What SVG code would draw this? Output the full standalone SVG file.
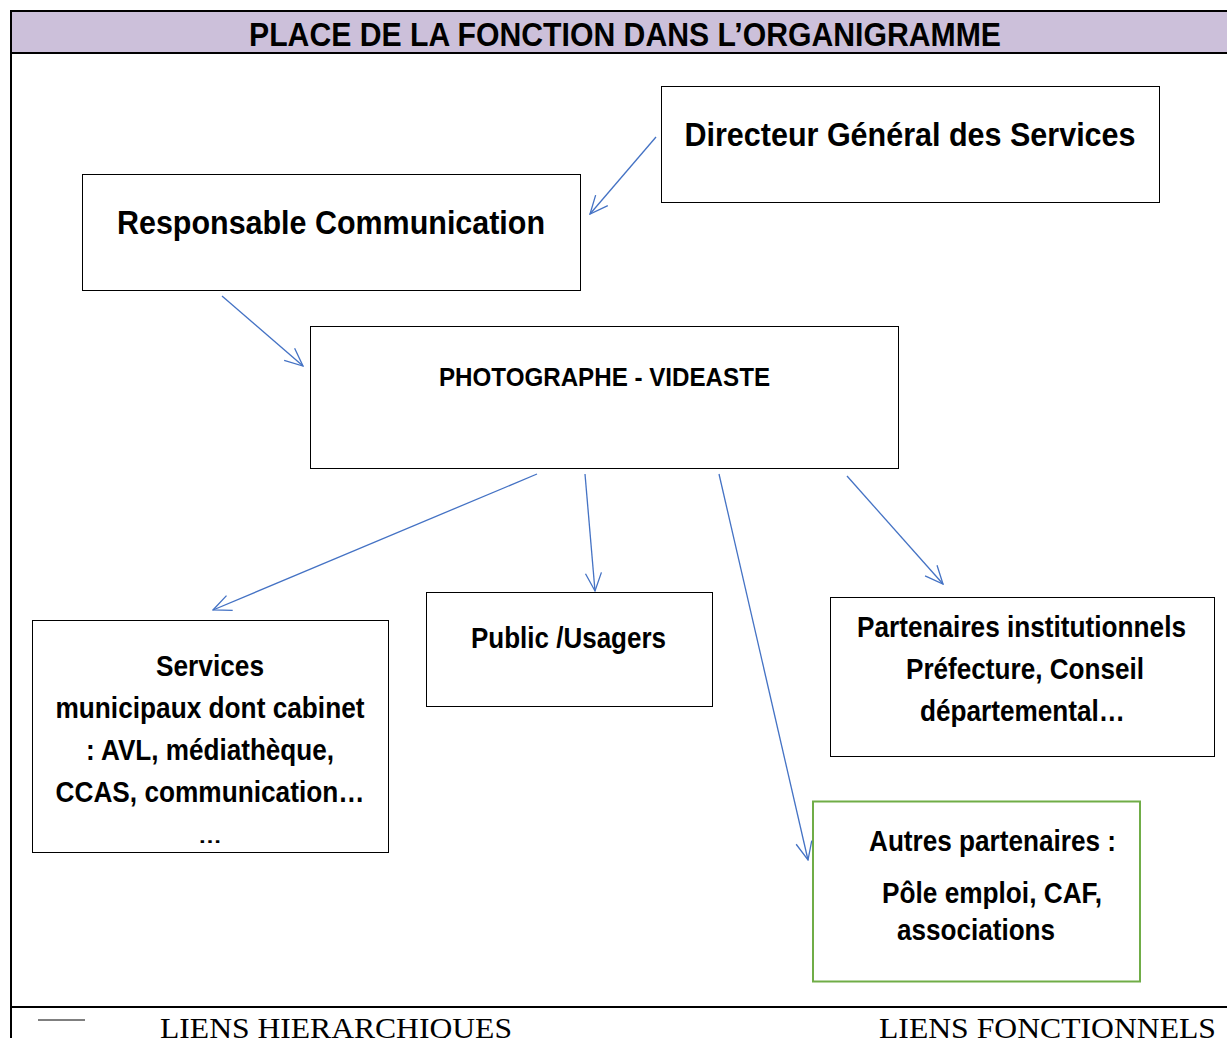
<svg xmlns="http://www.w3.org/2000/svg" width="1227" height="1038" viewBox="0 0 1227 1038">
<style>
.box{fill:#fff;stroke:#000;stroke-width:1}
.t{font-family:"Liberation Sans",Arial,sans-serif;font-weight:bold;fill:#000;text-anchor:middle}
.leg{font-family:"Liberation Serif","Times New Roman",serif;fill:#000}
.c{stroke:#4472c4;stroke-width:1.3;fill:none;marker-end:url(#ah)}
</style>
<defs>
<marker id="ah" viewBox="0 0 20 20" refX="19" refY="10" markerWidth="20" markerHeight="20" markerUnits="userSpaceOnUse" orient="auto">
<path d="M1,2 L19,10 L1,18" fill="none" stroke="#4472c4" stroke-width="1.3"/>
</marker>
</defs>
<rect x="0" y="0" width="1227" height="1038" fill="#fff"/>
<g id="frame">
<rect x="11" y="11" width="1218" height="42" fill="#ccc0da"/>
<line x1="10" y1="11" x2="1227" y2="11" stroke="#000" stroke-width="2"/>
<line x1="10" y1="53" x2="1227" y2="53" stroke="#000" stroke-width="2"/>
<line x1="11" y1="10" x2="11" y2="1038" stroke="#000" stroke-width="2"/>
<line x1="10" y1="1007" x2="1227" y2="1007" stroke="#000" stroke-width="2"/>
<text class="t" x="625" y="46" font-size="34" textLength="752" lengthAdjust="spacingAndGlyphs">PLACE DE LA FONCTION DANS L’ORGANIGRAMME</text>
</g>
<g id="dgs">
<rect class="box" x="661.5" y="86.5" width="498" height="116"/>
<text class="t" x="910" y="146" font-size="34" textLength="451" lengthAdjust="spacingAndGlyphs">Directeur Général des Services</text>
</g>
<g id="resp">
<rect class="box" x="82.5" y="174.5" width="498" height="116"/>
<text class="t" x="331" y="234" font-size="34" textLength="428" lengthAdjust="spacingAndGlyphs">Responsable Communication</text>
</g>
<g id="photo">
<rect class="box" x="310.5" y="326.5" width="588" height="142"/>
<text class="t" x="604.5" y="386" font-size="25" textLength="331" lengthAdjust="spacingAndGlyphs">PHOTOGRAPHE - VIDEASTE</text>
</g>
<g id="services">
<rect class="box" x="32.5" y="620.5" width="356" height="232"/>
<text class="t" x="210" y="676" font-size="29" textLength="108" lengthAdjust="spacingAndGlyphs">Services</text>
<text class="t" x="210" y="718" font-size="29" textLength="309" lengthAdjust="spacingAndGlyphs">municipaux dont cabinet</text>
<text class="t" x="210" y="760" font-size="29" textLength="248" lengthAdjust="spacingAndGlyphs">: AVL, médiathèque,</text>
<text class="t" x="210" y="802" font-size="29" textLength="309" lengthAdjust="spacingAndGlyphs">CCAS, communication…</text>
<text class="t" x="210" y="843" font-size="18" textLength="24" lengthAdjust="spacingAndGlyphs">…</text>
</g>
<g id="public">
<rect class="box" x="426.5" y="592.5" width="286" height="114"/>
<text class="t" x="568.5" y="648" font-size="29" textLength="195" lengthAdjust="spacingAndGlyphs">Public /Usagers</text>
</g>
<g id="partenaires">
<rect class="box" x="830.5" y="597.5" width="384" height="159"/>
<text class="t" x="1021.5" y="637" font-size="29" textLength="329" lengthAdjust="spacingAndGlyphs">Partenaires institutionnels</text>
<text class="t" x="1025" y="679" font-size="29" textLength="238" lengthAdjust="spacingAndGlyphs">Préfecture, Conseil</text>
<text class="t" x="1022.5" y="721" font-size="29" textLength="205" lengthAdjust="spacingAndGlyphs">départemental…</text>
</g>
<g id="autres">
<rect x="813" y="801.5" width="327" height="180" fill="#fff" stroke="#70ad47" stroke-width="2"/>
<text class="t" x="992.5" y="851" font-size="29" textLength="247" lengthAdjust="spacingAndGlyphs">Autres partenaires :</text>
<text class="t" x="992" y="903" font-size="29" textLength="220" lengthAdjust="spacingAndGlyphs">Pôle emploi, CAF,</text>
<text class="t" x="976" y="940" font-size="29" textLength="158" lengthAdjust="spacingAndGlyphs">associations</text>
</g>
<g id="connectors">
<line class="c" x1="656" y1="137" x2="590" y2="214"/>
<line class="c" x1="222" y1="296" x2="303" y2="366"/>
<line class="c" x1="537" y1="474" x2="213" y2="610"/>
<line class="c" x1="585" y1="474" x2="595" y2="591"/>
<line class="c" x1="719" y1="474" x2="808" y2="860"/>
<line class="c" x1="847" y1="476" x2="943" y2="584"/>
</g>
<g id="legend">
<line x1="38" y1="1020" x2="85" y2="1020" stroke="#000" stroke-width="1"/>
<text class="leg" x="160" y="1038" font-size="30" textLength="352" lengthAdjust="spacingAndGlyphs">LIENS HIERARCHIQUES</text>
<text class="leg" x="879" y="1038" font-size="30" textLength="337" lengthAdjust="spacingAndGlyphs">LIENS FONCTIONNELS</text>
</g>
</svg>
